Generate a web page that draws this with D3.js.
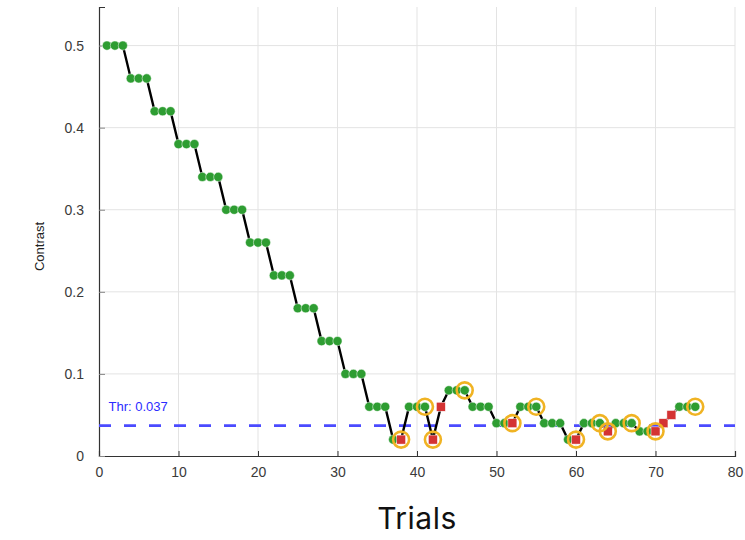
<!DOCTYPE html>
<html>
<head>
<meta charset="utf-8">
<script src="https://cdn.jsdelivr.net/npm/d3@7"></script>
<style>
  body { margin: 0; background: #fff; }
  svg { display: block; font-family: "Liberation Sans", Arial, sans-serif; }
</style>
</head>
<body>
<div id="chart"></div>
<script>
// DATA
const CONTRAST = [
  0.50, 0.50, 0.50, 0.46, 0.46, 0.46, 0.42, 0.42, 0.42, 0.38,
  0.38, 0.38, 0.34, 0.34, 0.34, 0.30, 0.30, 0.30, 0.26, 0.26,
  0.26, 0.22, 0.22, 0.22, 0.18, 0.18, 0.18, 0.14, 0.14, 0.14,
  0.10, 0.10, 0.10, 0.06, 0.06, 0.06, 0.02, 0.02, 0.06, 0.06,
  0.06, 0.02, 0.06, 0.08, 0.08, 0.08, 0.06, 0.06, 0.06, 0.04,
  0.04, 0.04, 0.06, 0.06, 0.06, 0.04, 0.04, 0.04, 0.02, 0.02,
  0.04, 0.04, 0.04, 0.03, 0.04, 0.04, 0.04, 0.03, 0.03, 0.03,
  0.04, 0.05, 0.06, 0.06, 0.06
];
// 1 = correct, 0 = incorrect
const CORRECT = [
  1, 1, 1, 1, 1, 1, 1, 1, 1, 1,
  1, 1, 1, 1, 1, 1, 1, 1, 1, 1,
  1, 1, 1, 1, 1, 1, 1, 1, 1, 1,
  1, 1, 1, 1, 1, 1, 1, 0, 1, 1,
  1, 0, 0, 1, 1, 1, 1, 1, 1, 1,
  1, 0, 1, 1, 1, 1, 1, 1, 1, 0,
  1, 1, 1, 0, 1, 1, 1, 1, 1, 0,
  0, 0, 1, 1, 1
];
const REVERSALS = [38, 41, 42, 46, 52, 55, 60, 63, 64, 67, 70, 75];
const THRESHOLD = 0.037;
const X_TICKS = [0, 10, 20, 30, 40, 50, 60, 70, 80];
const Y_TICKS = [0, 0.1, 0.2, 0.3, 0.4, 0.5];

const TRIALS = CONTRAST.map((c, i) => ({
  trial: i + 1,
  contrast: c,
  correct: CORRECT[i] === 1,
  reversal: REVERSALS.includes(i + 1)
}));

const WIDTH = 745;
const HEIGHT = 540;
const MARGIN = {top: 7, right: 10, bottom: 84, left: 99};
const FONT = "Liberation Sans, Arial, sans-serif";

const SVG_SELECTION = d3.select("#chart").append("svg")
  .attr("width", WIDTH)
  .attr("height", HEIGHT);

const X = d3.scaleLinear().domain([0, 80]).range([MARGIN.left, WIDTH - MARGIN.right]);
const Y = d3.scaleLinear().domain([0, 0.547]).range([HEIGHT - MARGIN.bottom, MARGIN.top]);

// GRID
SVG_SELECTION.append("g")
  .selectAll("line")
  .data(X_TICKS.slice(1))
  .enter().append("line")
  .attr("x1", d => X(d)).attr("x2", d => X(d))
  .attr("y1", Y.range()[0]).attr("y2", Y.range()[1])
  .attr("stroke", "#e3e3e3");

SVG_SELECTION.append("g")
  .selectAll("line")
  .data(Y_TICKS.slice(1))
  .enter().append("line")
  .attr("x1", X.range()[0]).attr("x2", X.range()[1])
  .attr("y1", d => Y(d)).attr("y2", d => Y(d))
  .attr("stroke", "#e3e3e3");

// AXES
const X_AXIS = SVG_SELECTION.append("g")
  .attr("transform", `translate(0,${Y(0)})`)
  .call(d3.axisBottom(X).tickValues(X_TICKS).tickSize(-5).tickPadding(11).tickFormat(d3.format("d")))
  .attr("font-family", FONT);
X_AXIS.select(".domain").attr("stroke", "#333").attr("stroke-width", 1.2);
X_AXIS.selectAll(".tick line").attr("stroke", "#333");
X_AXIS.selectAll(".tick text")
  .attr("fill", "#3a3a3a")
  .attr("font-size", 14);

const Y_AXIS = SVG_SELECTION.append("g")
  .attr("transform", `translate(${X(0)},0)`)
  .call(d3.axisLeft(Y).tickValues(Y_TICKS).tickSize(-6).tickPadding(15)
    .tickFormat(d => d === 0 ? "0" : d3.format(".1f")(d)))
  .attr("font-family", FONT);
Y_AXIS.select(".domain").attr("stroke", "#333").attr("stroke-width", 1.2);
Y_AXIS.selectAll(".tick line").attr("stroke", "#888");
Y_AXIS.selectAll(".tick text")
  .attr("fill", "#3a3a3a")
  .attr("font-size", 14);

// LABELS
SVG_SELECTION.append("text")
  .attr("transform", `translate(44,${(Y.range()[0] + Y.range()[1]) / 2 + 15}) rotate(-90)`)
  .attr("text-anchor", "middle")
  .attr("font-size", 13)
  .attr("fill", "#222")
  .text("Contrast");

SVG_SELECTION.append("text")
  .attr("x", (X.range()[0] + X.range()[1]) / 2)
  .attr("y", 529)
  .attr("text-anchor", "middle")
  .attr("font-family", "Inter, sans-serif")
  .attr("font-size", 30)
  .attr("letter-spacing", 0.5)
  .attr("fill", "#111")
  .text("Trials");

// THRESHOLD
SVG_SELECTION.append("line")
  .attr("x1", X.range()[0]).attr("x2", X.range()[1])
  .attr("y1", Y(THRESHOLD)).attr("y2", Y(THRESHOLD))
  .attr("stroke", "#4b4bff")
  .attr("stroke-width", 2.6)
  .attr("stroke-dasharray", "12,13");

SVG_SELECTION.append("text")
  .attr("x", X(1.2))
  .attr("y", Y(THRESHOLD) - 15)
  .attr("font-size", 13)
  .attr("fill", "#2b2bff")
  .text("Thr: " + THRESHOLD);

// STAIRCASE LINE
const LINE = d3.line().x(d => X(d.trial)).y(d => Y(d.contrast));
SVG_SELECTION.append("path")
  .datum(TRIALS)
  .attr("d", LINE)
  .attr("fill", "none")
  .attr("stroke", "#000")
  .attr("stroke-width", 2.4);

// POINTS
SVG_SELECTION.append("g")
  .selectAll("circle")
  .data(TRIALS.filter(d => d.correct))
  .enter().append("circle")
  .attr("cx", d => X(d.trial))
  .attr("cy", d => Y(d.contrast))
  .attr("r", 4.6)
  .attr("fill", "#2e9d32")
  .attr("stroke", "#fff")
  .attr("stroke-width", 0.5);

SVG_SELECTION.append("g")
  .selectAll("rect")
  .data(TRIALS.filter(d => !d.correct))
  .enter().append("rect")
  .attr("x", d => X(d.trial) - 4.5)
  .attr("y", d => Y(d.contrast) - 4.5)
  .attr("width", 9)
  .attr("height", 9)
  .attr("fill", "#d43333")
  .attr("stroke", "#fff")
  .attr("stroke-width", 0.5);

// REVERSALS
SVG_SELECTION.append("g")
  .selectAll("circle")
  .data(TRIALS.filter(d => d.reversal))
  .enter().append("circle")
  .attr("cx", d => X(d.trial))
  .attr("cy", d => Y(d.contrast))
  .attr("r", 8)
  .attr("fill", "none")
  .attr("stroke", "#f0b323")
  .attr("stroke-width", 2.6);
</script>
</body>
</html>
